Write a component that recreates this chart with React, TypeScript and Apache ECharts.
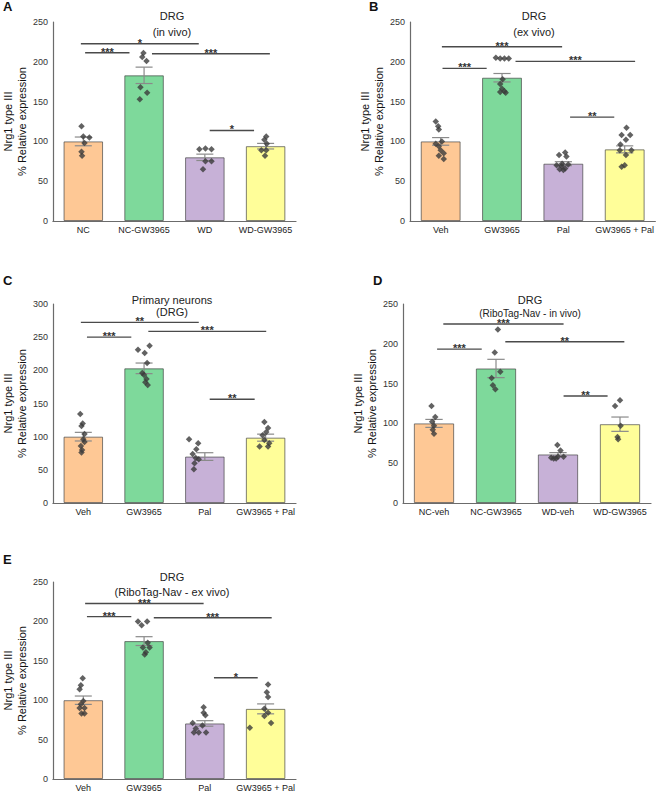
import React, { useEffect, useRef } from "react";
import * as echarts from "echarts";

// ---------- categories ----------
const catsA = ["NC", "NC-GW3965", "WD", "WD-GW3965"];
const catsB = ["Veh", "GW3965", "Pal", "GW3965 + Pal"];
const catsC = ["Veh", "GW3965", "Pal", "GW3965 + Pal"];
const catsD = ["NC-veh", "NC-GW3965", "WD-veh", "WD-GW3965"];
const catsE = ["Veh", "GW3965", "Pal", "GW3965 + Pal"];

// ---------- bar means and SEM ----------
const meanA = [100, 183, 80, 94];
const semA = [5.5, 10.3, 4, 3.5];
const meanB = [100, 180, 72, 90];
const semB = [4.8, 5.3, 2.5, 4.4];
const meanC = [100, 203, 70, 98.5];
const semC = [6.5, 8, 5.8, 5.3];
const meanD = [100, 169, 61, 99];
const semD = [5, 11.5, 2.3, 9];
const meanE = [100, 175, 70.5, 89];
const semE = [5.3, 5.6, 3.5, 6.3];

// ---------- individual points: [jitter (category units), value] ----------
const ptsA = [
  [[-0.03, 119], [0, 106], [0.1, 105], [0.02, 98], [-0.03, 87], [-0.02, 82]],
  [[-0.01, 211], [-0.03, 206], [0.04, 201], [-0.06, 168], [0.05, 161], [-0.07, 153]],
  [[-0.09, 90], [0.01, 91], [0.11, 90], [0.01, 75], [0.11, 75], [-0.03, 65]],
  [[0.01, 106], [-0.02, 102], [0.02, 97], [-0.07, 89], [0.01, 89], [-0.01, 82]],
];
const ptsB = [
  [[-0.08, 125], [-0.04, 119], [-0.03, 115], [0.02, 100], [-0.08, 97], [-0.03, 94], [0, 89], [0.05, 85], [-0.03, 82], [0.05, 78]],
  [[-0.1, 205], [-0.03, 204], [0.04, 204], [0.11, 204], [0.01, 178], [-0.03, 172], [0, 166], [0.04, 163], [-0.03, 162], [0.06, 161]],
  [[-0.07, 83], [0.03, 86], [0.05, 81], [-0.11, 70], [-0.03, 69], [0.03, 66], [0, 64], [-0.06, 65], [0.08, 71], [-0.02, 72]],
  [[0.03, 117], [-0.05, 108], [0.09, 108], [0.02, 102], [-0.07, 96], [-0.08, 89], [0.11, 89], [0.02, 83], [0, 70], [-0.05, 68]],
];
const ptsC = [
  [[-0.05, 134], [-0.01, 120], [-0.03, 116], [0.02, 104], [0, 96], [0.02, 92], [-0.04, 86], [-0.02, 80], [-0.03, 76]],
  [[0.09, 237], [-0.1, 231], [0.01, 226], [0.05, 211], [-0.03, 196], [0, 193], [0.04, 187], [0.02, 182], [0.06, 178]],
  [[-0.26, 96], [-0.11, 90], [-0.14, 81], [-0.2, 74], [-0.15, 68], [-0.1, 66], [-0.17, 60], [-0.18, 51]],
  [[-0.02, 122], [0.04, 113], [0.01, 107], [-0.05, 102], [-0.02, 95], [0.06, 90], [-0.1, 85], [0.04, 85]],
];
const ptsD = [
  [[-0.04, 122], [0.02, 108], [-0.03, 102], [0, 97], [-0.02, 92], [0, 87]],
  [[0.03, 218], [-0.02, 189], [0.07, 165], [-0.07, 157], [-0.05, 148], [-0.01, 143]],
  [[-0.01, 73], [0.04, 66], [-0.11, 57], [0, 58], [0.09, 58], [-0.07, 56], [-0.03, 56]],
  [[0, 129], [-0.08, 122], [0.01, 97], [-0.04, 83], [-0.03, 80]],
];
const ptsE = [
  [[-0.01, 128], [-0.04, 119], [-0.06, 114], [0, 99], [-0.04, 95], [-0.06, 90], [0.02, 90], [-0.03, 83], [0.02, 83]],
  [[-0.1, 200], [0.05, 200], [-0.04, 195], [0.06, 173], [-0.02, 167], [0.09, 167], [0.03, 161], [0.01, 158]],
  [[-0.02, 91], [-0.02, 84], [0.01, 81], [-0.2, 71], [-0.04, 68], [-0.15, 64], [-0.18, 59], [-0.1, 59], [0.02, 59]],
  [[0.04, 120], [0.02, 110], [0.04, 104], [-0.02, 89], [0.04, 84], [-0.02, 80], [0.09, 71], [-0.26, 65]],
];

// ---------- significance brackets: [fromX, toX, y, label] ----------
const sigA = [[-0.04, 1.9, 222.7, "*"], [0.03, 0.76, 211.4, "***"], [1.13, 3.07, 210.2, "***"], [2.08, 2.81, 113.7, "*"]];
const sigB = [[0.02, 1.98, 219, "***"], [0.03, 0.75, 191.7, "***"], [1.22, 3.17, 200.5, "***"], [2.11, 2.83, 130.5, "**"]];
const sigC = [[-0.04, 1.9, 272.3, "**"], [0.06, 0.79, 250.1, "***"], [1.07, 3.01, 258.7, "***"], [2.08, 2.82, 156.3, "**"]];
const sigD = [[0.15, 2.09, 224.8, "***"], [0.05, 0.77, 193.3, "***"], [1.15, 3.07, 202.5, "**"], [2.09, 2.8, 134.5, "**"]];
const sigE = [[0.03, 1.98, 222.7, "***"], [0.06, 0.79, 206, "***"], [1.16, 3.1, 204.7, "***"], [2.15, 2.87, 128.4, "*"]];

const yMaxList = [250, 250, 300, 250, 250];

const barColors = ["#FEC895", "#7ED99B", "#C7B1D7", "#FFFE99"];
const FONT = "'Liberation Sans', Arial, Helvetica, sans-serif";

const panels = [
  { cats: catsA, mean: meanA, sem: semA, pts: ptsA, sig: sigA, yMax: yMaxList[0], grid: { left: 49, top: 22, width: 247, height: 199 }, title: ["DRG", "(in vivo)"], tx: 172, tTop: 10, tGap: 5.5, subSize: 11, letter: "A", lx: 3, ly: 0 },
  { cats: catsB, mean: meanB, sem: semB, pts: ptsB, sig: sigB, yMax: yMaxList[1], grid: { left: 410, top: 22, width: 246, height: 199 }, title: ["DRG", "(ex vivo)"], tx: 534, tTop: 10, tGap: 5.5, subSize: 11, letter: "B", lx: 369, ly: 0 },
  { cats: catsC, mean: meanC, sem: semC, pts: ptsC, sig: sigC, yMax: yMaxList[2], grid: { left: 49, top: 304, width: 247, height: 199 }, title: ["Primary neurons", "(DRG)"], tx: 172, tTop: 294, tGap: 1.5, subSize: 11, letter: "C", lx: 3, ly: 274 },
  { cats: catsD, mean: meanD, sem: semD, pts: ptsD, sig: sigD, yMax: yMaxList[3], grid: { left: 403, top: 304, width: 248, height: 199 }, title: ["DRG", "(RiboTag-Nav - in vivo)"], tx: 530, tTop: 294, tGap: 3, subSize: 10, letter: "D", lx: 373, ly: 274 },
  { cats: catsE, mean: meanE, sem: semE, pts: ptsE, sig: sigE, yMax: yMaxList[4], grid: { left: 49, top: 582, width: 247, height: 198 }, title: ["DRG", "(RiboTag-Nav - ex vivo)"], tx: 172, tTop: 571, tGap: 4.5, subSize: 11, letter: "E", lx: 3, ly: 553 },
];

export default function App() {
  const ref = useRef<HTMLDivElement>(null);
  useEffect(() => {
    if (!ref.current) return;
    const chart = echarts.init(ref.current, null, { renderer: "svg" });
    const grid: any[] = [];
    const xAxis: any[] = [];
    const yAxis: any[] = [];
    const series: any[] = [];
    const title: any[] = [];
    const graphic: any[] = [];

    panels.forEach((p, i) => {
      grid.push({ ...p.grid, containLabel: false });
      xAxis.push({
        type: "category",
        gridIndex: i,
        data: p.cats,
        axisTick: { show: false },
        axisLine: { onZero: false, lineStyle: { color: "#6b6b6b", width: 1.2 } },
        axisLabel: { fontSize: 9, color: "#222", margin: 4, interval: 0, fontFamily: FONT },
      });
      xAxis.push({ type: "value", gridIndex: i, min: -0.5, max: 3.5, show: false });
      yAxis.push({
        type: "value",
        gridIndex: i,
        min: 0,
        max: p.yMax,
        interval: 50,
        axisLine: { show: true, onZero: false, lineStyle: { color: "#6b6b6b", width: 1.2 } },
        axisTick: { show: false },
        splitLine: { show: false },
        axisLabel: { fontSize: 9, color: "#333", margin: 5, fontFamily: FONT },
        name: "Nrg1 type III\n% Relative expression",
        nameLocation: "middle",
        nameRotate: 90,
        nameGap: 15,
        nameTextStyle: { fontSize: 11, color: "#111", lineHeight: 14, fontFamily: FONT },
      });

      series.push({
        type: "bar",
        xAxisIndex: 2 * i,
        yAxisIndex: i,
        barWidth: "65%",
        z: 2,
        data: p.mean.map((v, k) => ({
          value: v,
          itemStyle: { color: barColors[k], borderColor: "rgba(60,60,60,0.65)", borderWidth: 1 },
        })),
      });

      series.push({
        type: "custom",
        xAxisIndex: 2 * i + 1,
        yAxisIndex: i,
        z: 3,
        silent: true,
        data: p.mean.map((m, k) => [k, m, p.sem[k]]),
        renderItem: (params: any, api: any) => {
          const x = api.value(0);
          const m = api.value(1);
          const s = api.value(2);
          const top = api.coord([x, m + s]);
          const bot = api.coord([x, m - s]);
          const w = api.size([1, 0])[0] * 0.14;
          const st = { stroke: "#8a8a8a", lineWidth: 1.2 };
          return {
            type: "group",
            children: [
              { type: "line", shape: { x1: top[0], y1: top[1], x2: bot[0], y2: bot[1] }, style: st },
              { type: "line", shape: { x1: top[0] - w, y1: top[1], x2: top[0] + w, y2: top[1] }, style: st },
              { type: "line", shape: { x1: bot[0] - w, y1: bot[1], x2: bot[0] + w, y2: bot[1] }, style: st },
            ],
          };
        },
      });

      const scatterData: number[][] = [];
      p.pts.forEach((grp, k) => grp.forEach(([o, v]) => scatterData.push([k + o, v])));
      series.push({
        type: "scatter",
        xAxisIndex: 2 * i + 1,
        yAxisIndex: i,
        z: 4,
        symbol: "diamond",
        symbolSize: 6.5,
        itemStyle: { color: "#3b3b3b" },
        data: scatterData,
      });

      const sig = p.sig;
      series.push({
        type: "custom",
        xAxisIndex: 2 * i + 1,
        yAxisIndex: i,
        z: 5,
        silent: true,
        data: sig.map((s) => [s[0], s[1], s[2]]),
        renderItem: (params: any, api: any) => {
          const a = api.coord([api.value(0), api.value(2)]);
          const b = api.coord([api.value(1), api.value(2)]);
          const label = sig[params.dataIndex][3] as string;
          return {
            type: "group",
            children: [
              { type: "line", shape: { x1: a[0], y1: a[1], x2: b[0], y2: b[1] }, style: { stroke: "#4a4a4a", lineWidth: 1.4 } },
              {
                type: "text",
                style: {
                  text: label,
                  x: (a[0] + b[0]) / 2,
                  y: a[1] - 1,
                  textAlign: "center",
                  textVerticalAlign: "middle",
                  font: "bold 11px " + FONT,
                  fill: "#333",
                },
              },
            ],
          };
        },
      });

      title.push({
        text: p.title[0],
        subtext: p.title[1],
        left: p.tx,
        top: p.tTop,
        textAlign: "center",
        itemGap: p.tGap,
        padding: 0,
        textStyle: { fontSize: 11, fontWeight: "normal", color: "#222", fontFamily: FONT },
        subtextStyle: { fontSize: p.subSize, color: "#222", fontFamily: FONT },
      });

      graphic.push({
        type: "text",
        left: p.lx,
        top: p.ly,
        style: { text: p.letter, font: "bold 13px " + FONT, fill: "#111" },
      });
    });

    chart.setOption({
      animation: false,
      backgroundColor: "#ffffff",
      textStyle: { fontFamily: FONT },
      grid,
      xAxis,
      yAxis,
      series,
      title,
      graphic,
    });
    return () => chart.dispose();
  }, []);

  return (
    <div
      ref={ref}
      style={{ position: "absolute", left: 0, top: 0, width: 657, height: 792 }}
    />
  );
}
